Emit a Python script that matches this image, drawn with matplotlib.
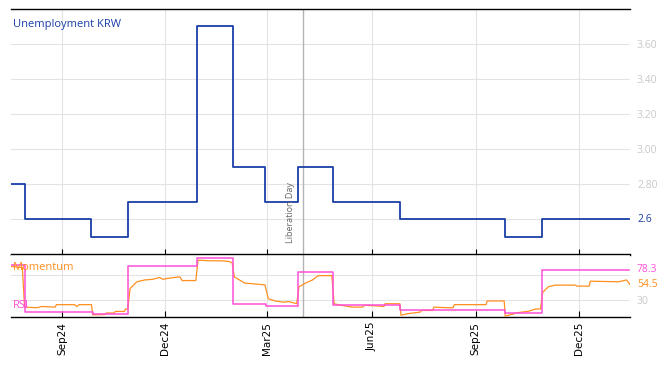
import matplotlib
matplotlib.use("Agg")
import matplotlib.pyplot as plt
import matplotlib.dates as mdates
import pandas as pd

# ---- data ----
unemp_dates = ["2024-07-18", "2024-07-30", "2024-09-27", "2024-10-29", "2024-12-29",
               "2025-01-30", "2025-02-27", "2025-03-28", "2025-04-28", "2025-06-26",
               "2025-09-27", "2025-10-29", "2026-01-14"]
unemp_vals = [2.8, 2.6, 2.5, 2.7, 3.7, 2.9, 2.7, 2.9, 2.7, 2.6, 2.5, 2.6, 2.6]

rsi_dates = ["2024-07-18", "2024-07-30", "2024-09-28", "2024-10-29", "2024-12-29",
             "2025-01-30", "2025-02-28", "2025-03-28", "2025-04-28", "2025-06-26",
             "2025-09-27", "2025-10-29", "2026-01-14"]
rsi_vals = [86, 9.3, 6.5, 85, 98, 23.5, 19.7, 75, 21, 13.6, 8.7, 78.3, 78.3]

mom_dates = ["2024-07-18", "2024-07-28", "2024-07-30", "2024-08-10", "2024-08-14", "2024-08-26",
             "2024-08-27", "2024-09-12", "2024-09-14", "2024-09-16", "2024-09-27", "2024-09-28",
             "2024-10-09", "2024-10-10", "2024-10-17", "2024-10-18", "2024-10-26", "2024-10-27",
             "2024-10-29", "2024-10-31", "2024-11-06", "2024-11-13", "2024-11-20", "2024-11-26",
             "2024-11-29", "2024-12-05", "2024-12-14", "2024-12-16", "2024-12-28", "2024-12-30",
             "2025-01-10", "2025-01-20", "2025-01-26", "2025-01-29", "2025-01-31", "2025-02-09",
             "2025-02-15", "2025-02-27", "2025-03-02", "2025-03-08", "2025-03-15", "2025-03-20",
             "2025-03-27", "2025-03-29", "2025-04-05", "2025-04-10", "2025-04-15", "2025-04-27",
             "2025-04-29", "2025-05-05", "2025-05-15", "2025-05-24", "2025-05-26", "2025-06-05",
             "2025-06-12", "2025-06-13", "2025-06-26", "2025-06-27", "2025-07-05", "2025-07-06",
             "2025-07-14", "2025-07-15", "2025-07-25", "2025-07-26", "2025-08-07", "2025-08-12",
             "2025-08-13", "2025-09-10", "2025-09-11", "2025-09-26", "2025-09-27", "2025-10-02",
             "2025-10-03", "2025-10-07", "2025-10-08", "2025-10-16", "2025-10-17", "2025-10-24",
             "2025-10-25", "2025-10-28", "2025-10-30", "2025-11-04", "2025-11-10", "2025-11-28",
             "2025-11-29", "2025-12-10", "2025-12-11", "2026-01-05", "2026-01-12", "2026-01-15"]
mom_vals = [84, 82, 18, 17, 19, 18,
            22, 22, 19, 22, 22, 5.5,
            6, 8.5, 8.5, 11, 11, 15,
            15, 48, 59, 62, 63, 66,
            63, 65, 67, 61, 61, 94,
            93, 93, 92, 90, 67, 57,
            56, 54, 31.6, 28, 26, 27,
            23.5, 51, 58, 62, 69, 69,
            23.5, 21, 18, 18, 21, 20,
            19, 23.5, 23.5, 5, 8, 8,
            10, 12.6, 12.6, 18, 17, 17,
            22, 22, 28, 28, 3.3, 6,
            6, 9, 9, 11, 11, 15,
            15, 15, 42, 51, 53.6, 53.6,
            52, 52, 60, 59, 62, 54.5]

xtick_dates = ["2024-09-01", "2024-12-01", "2025-03-01", "2025-06-01", "2025-09-01", "2025-12-01"]
top_yticks = [2.6, 2.8, 3.0, 3.2, 3.4, 3.6]
top_ytick_labels = ["", "2.80", "3.00", "3.20", "3.40", "3.60"]
event_date = "2025-04-02"
event_label = "Liberation Day"

# ---- styling ----
BLUE = "#1a3fa6"
PINK = "#ff4fd8"
ORANGE = "#ff8f1f"
GRID = "#e3e3e3"
LABEL_GRAY = "#c8c8c8"
FONT = ["Open Sans", "DejaVu Sans"]

fig = plt.figure(figsize=(6.68, 3.66), dpi=100)
ax1 = fig.add_axes([11 / 668, 1 - 255 / 366, 619 / 668, 246 / 366])
ax2 = fig.add_axes([11 / 668, 1 - 317 / 366, 619 / 668, 63 / 366], sharex=ax1)

ud = pd.to_datetime(unemp_dates)
rd = pd.to_datetime(rsi_dates)
md = pd.to_datetime(mom_dates)
xt = pd.to_datetime(xtick_dates)
ev = mdates.date2num(pd.Timestamp(event_date).to_pydatetime())

ax1.plot(ud, unemp_vals, drawstyle="steps-post", color=BLUE, lw=1.3, zorder=3)
ax2.plot(md, mom_vals, color=ORANGE, lw=0.9, zorder=3)
ax2.plot(rd, rsi_vals, drawstyle="steps-post", color=PINK, lw=1.1, zorder=4)

xmin = pd.Timestamp("2024-07-18")
xmax = pd.Timestamp("2026-01-15")
ax1.set_xlim(xmin, xmax)
ax1.set_ylim(2.396, 3.798)
ax2.set_ylim(2, 104)

for ax in (ax1, ax2):
    for s in ("left", "right"):
        ax.spines[s].set_visible(False)
    for s in ("top", "bottom"):
        ax.spines[s].set_color("black")
        ax.spines[s].set_linewidth(1.0)
    ax.set_xticks(xt)
    ax.xaxis.set_major_formatter(mdates.DateFormatter("%b%y"))
    ax.tick_params(axis="x", direction="in", length=4, color="black", width=0.8)
    ax.grid(True, axis="both", color=GRID, lw=0.8, zorder=0)
    ax.yaxis.tick_right()
    ax.tick_params(axis="y", length=0, pad=5, labelcolor=LABEL_GRAY, labelsize=7.5)
    ax.axvline(ev, color="#b4b4b4", lw=1.0, zorder=2)

ax1.tick_params(axis="x", labelbottom=False)
ax1.set_yticks(top_yticks)
ax1.set_yticklabels(top_ytick_labels, fontfamily=FONT)

ax2.set_yticks([30, 70])
ax2.set_yticklabels(["30", ""], fontfamily=FONT)
for lab in ax2.get_xticklabels():
    lab.set_rotation(90)
    lab.set_fontsize(7.5)

# current-value labels
ax1.annotate(f"{unemp_vals[-1]:.1f}", xy=(1, unemp_vals[-1]), xycoords=ax1.get_yaxis_transform(),
             xytext=(5, 0), textcoords="offset points", va="center", ha="left",
             color=BLUE, fontsize=7.5, fontfamily=FONT)
ax2.annotate(f"{rsi_vals[-1]:.1f}", xy=(1, rsi_vals[-1]), xycoords=ax2.get_yaxis_transform(),
             xytext=(5, 0), textcoords="offset points", va="center", ha="left",
             color=PINK, fontsize=7.5, fontfamily=FONT)
ax2.annotate(f"{mom_vals[-1]:.1f}", xy=(1, mom_vals[-1]), xycoords=ax2.get_yaxis_transform(),
             xytext=(5, 0), textcoords="offset points", va="center", ha="left",
             color=ORANGE, fontsize=7.5, fontfamily=FONT)

# titles / legends
ax1.text(0.003, 0.935, "Unemployment KRW", transform=ax1.transAxes, color=BLUE,
         fontsize=8, fontfamily=FONT, va="center", ha="left")
ax2.text(0.003, 0.78, "Momentum", transform=ax2.transAxes, color=ORANGE,
         fontsize=8, fontfamily=FONT, va="center", ha="left", zorder=5)
ax2.text(0.003, 0.18, "RSI", transform=ax2.transAxes, color=PINK,
         fontsize=8, fontfamily=FONT, va="center", ha="left", zorder=5)

# event label
ax1.annotate(event_label, xy=(ev, 0.05), xycoords=ax1.get_xaxis_transform(),
             xytext=(-9, 0), textcoords="offset points", rotation=90,
             ha="center", va="bottom", color="#666666", fontsize=6.5, fontfamily=FONT)

fig.savefig("out.png", dpi=100)
